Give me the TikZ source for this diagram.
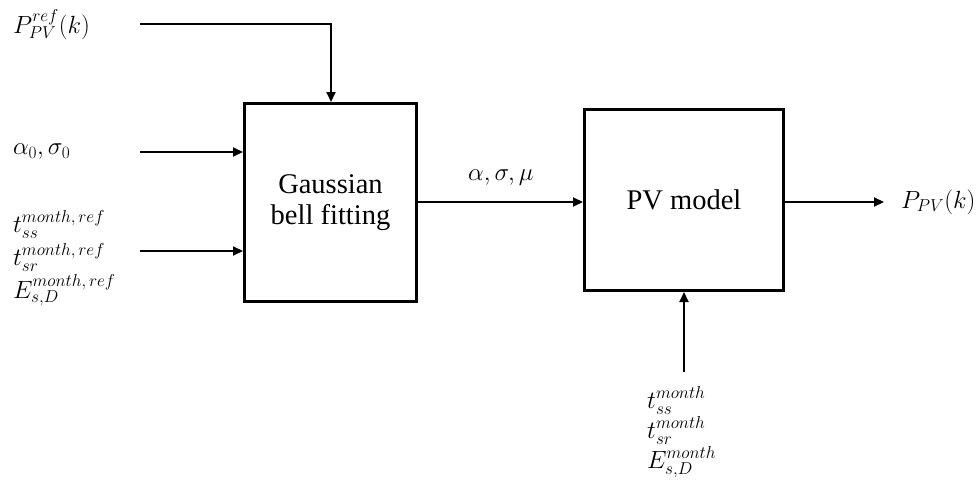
\documentclass[tikz,border=0pt]{standalone}
\usepackage{fontspec}
\setmainfont{Liberation Serif}
\usetikzlibrary{arrows.meta}
\DeclareMathSizes{25}{25}{19}{15}
\tikzset{
  blk/.style={draw, line width=3pt, inner sep=0pt, align=center,
    font=\fontsize{28.5}{31}\selectfont},
  flow/.style={line width=2pt, -{Triangle[length=10pt,width=9pt]}},
  lbl/.style={inner sep=0pt, font=\fontsize{25}{30}\selectfont},
}
\begin{document}
\begin{tikzpicture}[x=1pt,y=-1pt]
\useasboundingbox (0,0) rectangle (979,479);

% processing blocks
\node[blk, minimum width=172pt, minimum height=198pt] (fit) at (330.5,202.5)
  {Gaussian\\bell fitting};
\node[blk, minimum width=199pt, minimum height=181pt] (pv) at (684,200)
  {PV model};

% input / output labels
\node[lbl, anchor=west] (pref) at (13,25) {$P_{PV}^{ref}(k)$};
\node[lbl, anchor=west] (a0) at (13,152) {$\alpha_0,\sigma_0$};
\node[lbl, anchor=base west] (tss) at (13,232) {$t_{ss}^{month,\,ref}$};
\node[lbl, anchor=base west] (tsr) at (13,265) {$t_{sr}^{month,\,ref}$};
\node[lbl, anchor=base west] (esd) at (13,298) {$E_{s,D}^{month,\,ref}$};
\node[lbl, anchor=base west] (par) at (468,180) {$\alpha,\sigma,\mu$};
\node[lbl, anchor=west] (ppv) at (901,202) {$P_{PV}(k)$};
\node[lbl, anchor=base west] (mss) at (647,408) {$t_{ss}^{month}$};
\node[lbl, anchor=base west] (msr) at (647,438) {$t_{sr}^{month}$};
\node[lbl, anchor=base west] (msd) at (647,468) {$E_{s,D}^{month}$};

% free ends of the connectors
\coordinate (srcref) at (140,24);
\coordinate (srca) at (140,152);
\coordinate (srct) at (140,251);
\coordinate (srcm) at (684,372);
\coordinate (sink) at (884,202);

% connectors
\draw[flow] (srcref) -| (fit.north -| 331,0);
\draw[flow] (srca) -- (srca -| fit.west);
\draw[flow] (srct) -- (srct -| fit.west);
\draw[flow] (fit.east |- 0,202) -- (pv.west |- 0,202);
\draw[flow] (pv.east |- sink) -- (sink);
\draw[flow] (srcm) -- (pv.south);
\end{tikzpicture}
\end{document}
